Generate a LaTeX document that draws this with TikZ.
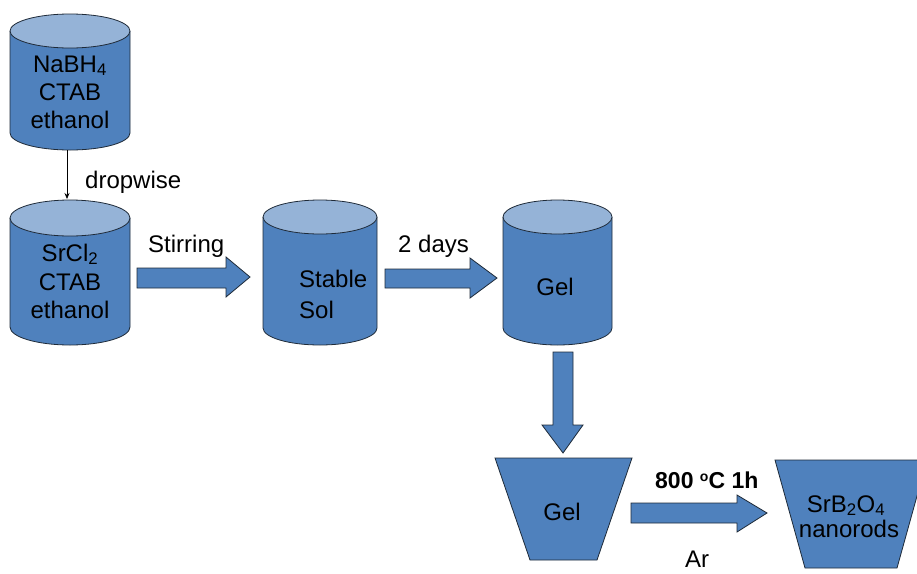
\documentclass[tikz,border=0pt]{standalone}
\usepackage{fontspec}
\setmainfont{Liberation Sans}
\usetikzlibrary{arrows.meta}
\definecolor{drumblue}{HTML}{4F81BD}
\definecolor{lidblue}{HTML}{95B3D7}
\definecolor{edge}{HTML}{1E2A38}
\begin{document}
\begin{tikzpicture}[x=1pt,y=-1pt,
  outline/.style={draw=edge,line width=0.8pt},
  body/.style={outline,fill=drumblue},
  lid/.style={outline,fill=lidblue},
  blockarrow/.style={outline,fill=drumblue,line join=miter},
  txt/.style={font=\fontsize{24}{28}\selectfont,text=black,inner sep=0pt},
  thin arrow/.style={draw=black,line width=0.7pt,-{Stealth[length=6pt,width=5pt]}}]
\useasboundingbox (0,0) rectangle (917,573);

% upright drum: #1 left x, #2 right x, #3 lid centre y, #4 base centre y, #5 half-height of the ellipses
\newcommand\drum[5]{%
  \pgfmathsetmacro\rx{(#2-#1)/2}%
  \fill[drumblue] (#1,#3) -- (#1,#4) arc[start angle=180,end angle=360,x radius=\rx pt,y radius=#5pt] -- (#2,#3) -- cycle;
  \draw[outline] (#1,#3) -- (#1,#4) arc[start angle=180,end angle=360,x radius=\rx pt,y radius=#5pt] -- (#2,#3);
  \draw[lid] ({(#1+#2)/2},#3) ellipse[x radius=\rx pt,y radius=#5pt];
}

% drums
\drum{10}{130}{31}{133}{17}
\drum{10}{130}{218}{327}{18}
\drum{263}{377}{217}{328}{17}
\drum{503}{612}{217}{328}{17}

% crucibles
\draw[body] (495,458) -- (632,458) -- (597,560) -- (530,560) -- cycle;
\draw[body] (775,460) -- (927,460) -- (897,568) -- (805,568) -- cycle;

% anchor points for the connectors
\coordinate (drumAbase) at (67,150);
\coordinate (drumBlid) at (67,199);

% texts
\node[txt,anchor=base] (nabh) at (70,72) {NaBH\textsubscript{4}};
\node[txt,anchor=base] (ctabA) at (70,100) {CTAB};
\node[txt,anchor=base] (ethA) at (70,128) {ethanol};
\node[txt,anchor=base] (srcl) at (70,261) {SrCl\textsubscript{2}};
\node[txt,anchor=base] (ctabB) at (70,290) {CTAB};
\node[txt,anchor=base] (ethB) at (70,318) {ethanol};
\node[txt,anchor=base west] (stable) at (299,287) {Stable};
\node[txt,anchor=base west] (sol) at (299,318) {Sol};
\node[txt,anchor=base] (gelA) at (555,295) {Gel};
\node[txt,anchor=base] (gelB) at (562,520) {Gel};
\node[txt,anchor=base] (srb) at (846,512) {SrB\textsubscript{2}O\textsubscript{4}};
\node[txt,anchor=base] (nano) at (849,537) {nanorods};

\node[txt,anchor=base west] (dropwise) at (85,188) {dropwise};
\node[txt,anchor=base west] (stirring) at (148,252) {Stirring};
\node[txt,anchor=base west] (twodays) at (398,252) {2 days};
\node[txt,anchor=base west,font=\fontsize{23}{28}\selectfont\bfseries] (temp) at (655,488) {800 \raisebox{0.55ex}{\fontsize{14}{14}\selectfont o}C 1h};
\node[txt,anchor=base west] (argon) at (685,567) {Ar};

% connectors
\draw[thin arrow] (drumAbase) -- (drumBlid);

% block arrows
\draw[blockarrow] (137,268) -- (226,268) -- (226,257) -- (250,277) -- (226,297) -- (226,288) -- (137,288) -- cycle;
\draw[blockarrow] (385,269) -- (470,269) -- (470,258) -- (497,278) -- (470,298) -- (470,288) -- (385,288) -- cycle;
\draw[blockarrow] (631,503) -- (737,503) -- (737,495) -- (767,513) -- (737,532) -- (737,523) -- (631,523) -- cycle;
\draw[blockarrow] (553,352) -- (573,352) -- (573,425) -- (583,425) -- (563,453) -- (542,425) -- (553,425) -- cycle;
\end{tikzpicture}
\end{document}
